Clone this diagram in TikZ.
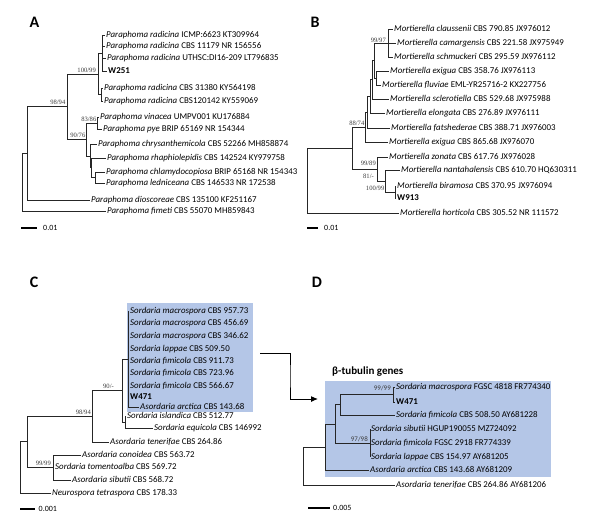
\documentclass[tikz,border=0pt]{standalone}
\usepackage{fontspec}
\setmainfont{Carlito}
\newfontfamily\bsfont{Liberation Serif}
\usetikzlibrary{arrows.meta,calc}
\definecolor{boxblue}{RGB}{180,198,231}
\definecolor{bsgray}{RGB}{60,60,60}
\begin{document}
\begin{tikzpicture}[x=1pt,y=-1pt,
 br/.style={line width=0.8pt, draw=black!85},
 lab/.style={anchor=west, inner xsep=1pt, inner ysep=0pt, xshift=-1pt, text height=6.6pt, text depth=1pt, font=\fontsize{8.9}{10}\selectfont},
 bs/.style={inner sep=0pt, font=\bsfont\fontsize{6.6}{7}\selectfont, text=bsgray},
 bsd/.style={inner sep=0pt, font=\fontsize{7}{8}\selectfont, text=bsgray},
 panel/.style={inner sep=0pt, font=\bfseries\fontsize{16}{18}\selectfont},
 scalebar/.style={line width=1.8pt},
 sclab/.style={anchor=west, inner sep=0pt, font=\fontsize{8}{9}\selectfont},
 hbox/.style={fill=boxblue, draw=none, inner sep=0pt, anchor=north west}
]
\useasboundingbox (0,0) rectangle (591,525);

% ---------- highlight boxes ----------
\node[hbox, minimum width=126pt, minimum height=109pt] (boxC) at (127,303) {};
\node[hbox, minimum width=226pt, minimum height=96pt] (boxD) at (325,381) {};

% ---------- panel letters ----------
\node[panel] (pA) at (34.5,22.5) {A};
\node[panel] (pB) at (315,22) {B};
\node[panel] (pC) at (34,282.5) {C};
\node[panel] (pD) at (317,282) {D};

% ================= PANEL A =================
\node[lab] (a1) at (106,35) {\textit{Paraphoma radicina} ICMP:6623 KT309964};
\node[lab] (a2) at (106,46) {\textit{Paraphoma radicina} CBS 11179 NR 156556};
\node[lab] (a3) at (107,58) {\textit{Paraphoma radicina} UTHSC:DI16-209 LT796835};
\node[lab] (a4) at (108,71) {\textbf{W251}};
\node[lab] (a5) at (104,88) {\textit{Paraphoma radicina} CBS 31380 KY564198};
\node[lab] (a6) at (104,101) {\textit{Paraphoma radicina} CBS120142 KY559069};
\node[lab] (a7) at (100,117) {\textit{Paraphoma vinacea} UMPV001 KU176884};
\node[lab] (a8) at (103,129) {\textit{Paraphoma pye} BRIP 65169 NR 154344};
\node[lab] (a9) at (98,144) {\textit{Paraphoma chrysanthemicola} CBS 52266 MH858874};
\node[lab] (a10) at (107,158) {\textit{Paraphoma rhaphiolepidis} CBS 142524 KY979758};
\node[lab] (a11) at (106,172) {\textit{Paraphoma chlamydocopiosa} BRIP 65168 NR 154343};
\node[lab] (a12) at (106,183) {\textit{Paraphoma ledniceana} CBS 146533 NR 172538};
\node[lab] (a13) at (91,200) {\textit{Paraphoma dioscoreae} CBS 135100 KF251167};
\node[lab] (a14) at (107,211) {\textit{Paraphoma fimeti} CBS 55070 MH859843};

\coordinate (As1) at (102,53);
\coordinate (As2) at (101,94.5);
\coordinate (An100) at (98,74);
\coordinate (An83) at (97,123);
\coordinate (Ar3) at (95,177.5);
\coordinate (Ar2) at (91,167.75);
\coordinate (Ar1) at (90,156);
\coordinate (An90) at (86,139.5);
\coordinate (An98) at (67,106.75);
\coordinate (Anr) at (27,153.4);
\coordinate (Aroot) at (22,182);

\foreach \c in {a1,a2,a3,a4} \draw[br] (As1) |- (\c.west);
\foreach \c in {a5,a6} \draw[br] (As2) |- (\c.west);
\foreach \c in {As1,As2} \draw[br] (An100) |- (\c);
\foreach \c in {a7,a8} \draw[br] (An83) |- (\c.west);
\foreach \c in {a11,a12} \draw[br] (Ar3) |- (\c.west);
\draw[br] (Ar2) |- (a10.west); \draw[br] (Ar2) |- (Ar3);
\draw[br] (Ar1) |- (a9.west); \draw[br] (Ar1) |- (Ar2);
\draw[br] (An90) |- (An83); \draw[br] (An90) |- (Ar1);
\draw[br] (An98) |- (An100); \draw[br] (An98) |- (An90);
\draw[br] (Anr) |- (An98); \draw[br] (Anr) |- (a13.west);
\draw[br] (Aroot) |- (Anr); \draw[br] (Aroot) |- (a14.west);

\node[bs, anchor=south east] (Ab1) at (96,73) {100/99};
\node[bs, anchor=south east] (Ab2) at (65.5,104.5) {98/94};
\node[bs, anchor=south east] (Ab3) at (96.5,121.5) {83/86};
\node[bs, anchor=south east] (Ab4) at (85.5,137.5) {90/76};

\coordinate (sA1) at (21,228); \coordinate (sA2) at (37,228);
\draw[scalebar] (sA1) -- (sA2);
\node[sclab] (sAl) at (43,228) {0.01};

% ================= PANEL B =================
\node[lab] (b1) at (394,29) {\textit{Mortierella claussenii} CBS 790.85 JX976012};
\node[lab] (b2) at (397,43) {\textit{Mortierella camargensis} CBS 221.58 JX975949};
\node[lab] (b3) at (394,57) {\textit{Mortierella schmuckeri} CBS 295.59 JX976112};
\node[lab] (b4) at (390,71) {\textit{Mortierella exigua} CBS 358.76 JX976113};
\node[lab] (b5) at (382,85) {\textit{Mortierella fluviae} EML-YR25716-2 KX227756};
\node[lab] (b6) at (390,99) {\textit{Mortierella sclerotiella} CBS 529.68 JX975988};
\node[lab] (b7) at (386,113) {\textit{Mortierella elongata} CBS 276.89 JX976111};
\node[lab] (b8) at (391,128) {\textit{Mortierella fatshederae} CBS 388.71 JX976003};
\node[lab] (b9) at (389,142) {\textit{Mortierella exigua} CBS 865.68 JX976070};
\node[lab] (b10) at (389,157) {\textit{Mortierella zonata} CBS 617.76 JX976028};
\node[lab] (b11) at (401,170) {\textit{Mortierella nantahalensis} CBS 610.70 HQ630311};
\node[lab] (b12) at (397,186) {\textit{Mortierella biramosa} CBS 370.95 JX976094};
\node[lab] (b13) at (397,198) {\textbf{W913}};
\node[lab] (b14) at (400,213) {\textit{Mortierella horticola} CBS 305.52 NR 111572};

\coordinate (Bn99) at (388,43);
\coordinate (Be1) at (376,78);
\coordinate (BL4) at (374,60.5);
\coordinate (BL3) at (372,79.75);
\coordinate (BL2) at (370,96.4);
\coordinate (BL1) at (367,112.2);
\coordinate (Bn88) at (365,127.1);
\coordinate (Bm3) at (395,192);
\coordinate (Bm2) at (385,181);
\coordinate (Bm1) at (377,169);
\coordinate (Bn) at (352,148);
\coordinate (Broot) at (307,180.5);

\foreach \c in {b1,b2,b3} \draw[br] (Bn99) |- (\c.west);
\foreach \c in {b4,b5} \draw[br] (Be1) |- (\c.west);
\draw[br] (BL4) |- (Bn99); \draw[br] (BL4) |- (Be1);
\draw[br] (BL3) |- (BL4); \draw[br] (BL3) |- (b6.west);
\draw[br] (BL2) |- (BL3); \draw[br] (BL2) |- (b7.west);
\draw[br] (BL1) |- (BL2); \draw[br] (BL1) |- (b8.west);
\draw[br] (Bn88) |- (BL1); \draw[br] (Bn88) |- (b9.west);
\foreach \c in {b12,b13} \draw[br] (Bm3) |- (\c.west);
\draw[br] (Bm2) |- (b11.west); \draw[br] (Bm2) |- (Bm3);
\draw[br] (Bm1) |- (b10.west); \draw[br] (Bm1) |- (Bm2);
\draw[br] (Bn) |- (Bn88); \draw[br] (Bn) |- (Bm1);
\draw[br] (Broot) |- (Bn); \draw[br] (Broot) |- (b14.west);

\node[bs, anchor=south east] (Bb1) at (386,42.5) {99/97};
\node[bs, anchor=south east] (Bb2) at (364.5,126) {88/74};
\node[bs, anchor=south east] (Bb3) at (376,166) {99/89};
\node[bs, anchor=east] (Bb4) at (374,176) {81/-};
\node[bs, anchor=east] (Bb5) at (384.5,188.5) {100/99};

\coordinate (sB1) at (307,228); \coordinate (sB2) at (318,228);
\draw[scalebar] (sB1) -- (sB2);
\node[sclab] (sBl) at (324,228) {0.01};

% ================= PANEL C =================
\node[lab] (c1) at (130,311) {\textit{Sordaria macrospora} CBS 957.73};
\node[lab] (c2) at (130,323) {\textit{Sordaria macrospora} CBS 456.69};
\node[lab] (c3) at (130,336) {\textit{Sordaria macrospora} CBS 346.62};
\node[lab] (c4) at (130,349) {\textit{Sordaria lappae} CBS 509.50};
\node[lab] (c5) at (130,361) {\textit{Sordaria fimicola} CBS 911.73};
\node[lab] (c6) at (130,373) {\textit{Sordaria fimicola} CBS 723.96};
\node[lab] (c7) at (130,386) {\textit{Sordaria fimicola} CBS 566.67};
\node[lab] (c8) at (130,397) {\textbf{W471}};
\node[lab] (c9) at (140,407) {\textit{Asordaria arctica} CBS 143.68};
\node[lab] (c10) at (127,416) {\textit{Sordaria islandica} CBS 512.77};
\node[lab] (c11) at (154,428) {\textit{Sordaria equicola} CBS 146992};
\node[lab] (c12) at (110,442) {\textit{Asordaria tenerifae} CBS 264.86};
\node[lab] (c13) at (82,455) {\textit{Asordaria conoidea} CBS 563.72};
\node[lab] (c14) at (55,467) {\textit{Sordaria tomentoalba} CBS 569.72};
\node[lab] (c15) at (72,480) {\textit{Asordaria sibutii} CBS 568.72};
\node[lab] (c16) at (52,493) {\textit{Neurospora tetraspora} CBS 178.33};

\coordinate (Cbig) at (128,359);
\coordinate (Cie) at (125,422);
\coordinate (Cn90) at (122,390.5);
\coordinate (Cn98) at (92,416);
\coordinate (Cn99) at (53,467.5);
\coordinate (Cn2) at (27,441.75);
\coordinate (Croot) at (20,467);

\foreach \c in {c1,c2,c3,c4,c5,c6,c7,c8,c9} \draw[br] (Cbig) |- (\c.west);
\foreach \c in {c10,c11} \draw[br] (Cie) |- (\c.west);
\draw[br] (Cn90) |- (Cbig); \draw[br] (Cn90) |- (Cie);
\draw[br] (Cn98) |- (Cn90); \draw[br] (Cn98) |- (c12.west);
\foreach \c in {c13,c14,c15} \draw[br] (Cn99) |- (\c.west);
\draw[br] (Cn2) |- (Cn98); \draw[br] (Cn2) |- (Cn99);
\draw[br] (Croot) |- (Cn2); \draw[br] (Croot) |- (c16.west);

\node[bs, anchor=south east] (Cb1) at (114,389) {90/-};
\node[bs, anchor=south east] (Cb2) at (91,414.5) {98/94};
\node[bs, anchor=south east] (Cb3) at (51,466) {99/99};

\coordinate (sC1) at (20,509); \coordinate (sC2) at (35,509);
\draw[scalebar] (sC1) -- (sC2);
\node[sclab] (sCl) at (38.5,509) {0.001};

% ================= PANEL D =================
\node[anchor=west, inner sep=0pt, font=\bfseries\fontsize{11}{13}\selectfont] (btl) at (332,372) {β-tubulin genes};

\node[lab] (d1) at (396,387) {\textit{Sordaria macrospora} FGSC 4818 FR774340};
\node[lab] (d2) at (396,402) {\textbf{W471}};
\node[lab] (d3) at (396,415) {\textit{Sordaria fimicola} CBS 508.50 AY681228};
\node[lab] (d4) at (371,429) {\textit{Sordaria sibutii} HGUP190055 MZ724092};
\node[lab] (d5) at (371,443) {\textit{Sordaria fimicola} FGSC 2918 FR774339};
\node[lab] (d6) at (371,457) {\textit{Sordaria lappae} CBS 154.97 AY681205};
\node[lab] (d7) at (370,470) {\textit{Asordaria arctica} CBS 143.68 AY681209};
\node[lab] (d8) at (396,485) {\textit{Asordaria tenerifae} CBS 264.86 AY681206};

\coordinate (Dn99) at (393,394.5);
\coordinate (DA) at (340,404.75);
\coordinate (Dn97) at (370,443);
\coordinate (DB) at (335,424);
\coordinate (DC) at (325,447);
\coordinate (Droot) at (303,466);

\foreach \c in {d1,d2} \draw[br] (Dn99) |- (\c.west);
\draw[br] (DA) |- (Dn99); \draw[br] (DA) |- (d3.west);
\foreach \c in {d4,d5,d6} \draw[br] (Dn97) |- (\c.west);
\draw[br] (DB) |- (DA); \draw[br] (DB) |- (Dn97);
\draw[br] (DC) |- (DB); \draw[br] (DC) |- (d7.west);
\draw[br] (Droot) |- (DC); \draw[br] (Droot) |- (d8.west);

\node[bsd, anchor=south east] (Db1) at (391,390.5) {99/99};
\node[bsd, anchor=south east] (Db2) at (368,441.5) {97/98};

\coordinate (sD1) at (308,508); \coordinate (sD2) at (330,508);
\draw[scalebar] (sD1) -- (sD2);
\node[sclab] (sDl) at (333,508) {0.005};

% ---------- connecting arrow ----------
\coordinate (arrS) at (260,353);
\coordinate (arrM) at (290,376);
\coordinate (arrE) at (318,399);
\draw[line width=1pt, -{Latex[length=7pt,width=6pt]}] (arrS) -| (arrM) |- (arrE);
\end{tikzpicture}
\end{document}
